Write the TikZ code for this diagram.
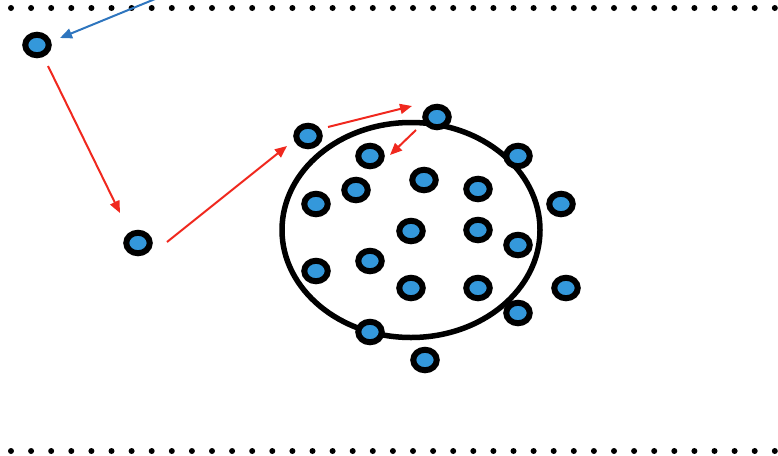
\documentclass[tikz,border=0pt]{standalone}
\usetikzlibrary{arrows.meta,shapes.geometric}
\definecolor{dotblue}{RGB}{52,152,219}
\definecolor{arrblue}{RGB}{46,117,190}
\definecolor{arrred}{RGB}{240,40,30}
\begin{document}
\begin{tikzpicture}[x=1pt,y=-1pt,
  pt/.style={draw=black,line width=6pt,fill=dotblue,ellipse,minimum width=23.5pt,minimum height=20.5pt,inner sep=0pt},
  redarr/.style={draw=arrred,line width=2pt,-{Triangle[length=12pt,width=10pt]}},
  bluearr/.style={draw=arrblue,line width=2pt,-{Triangle[length=12pt,width=10pt]}},
  rowdot/.style={fill=black,circle,inner sep=0pt,minimum size=6pt}]
\useasboundingbox (0,0) rectangle (778,455);
\clip (0,0) rectangle (778,455);
\foreach \i in {0,...,38} {
  \node[rowdot] (t\i) at ({11+20.1*\i},8) {};
  \node[rowdot] (b\i) at ({11+20.1*\i},451) {};
}
\draw[line width=5.5pt] (411,230) ellipse [x radius=129, y radius=107.5];
\node[pt] (n1) at (37,45) {};
\node[pt] (n2) at (138,243) {};
\node[pt] (n3) at (308,136) {};
\node[pt] (n4) at (437,117) {};
\node[pt] (n5) at (370,156) {};
\node[pt] (n6) at (518,156) {};
\node[pt] (n7) at (316,204) {};
\node[pt] (n8) at (356,190) {};
\node[pt] (n9) at (424,180) {};
\node[pt] (n10) at (478,189) {};
\node[pt] (n11) at (561,204) {};
\node[pt] (n12) at (411,231) {};
\node[pt] (n13) at (478,230) {};
\node[pt] (n14) at (518,245) {};
\node[pt] (n15) at (316,271) {};
\node[pt] (n16) at (370,261) {};
\node[pt] (n17) at (411,288) {};
\node[pt] (n18) at (478,288) {};
\node[pt] (n19) at (566,288) {};
\node[pt] (n20) at (518,313) {};
\node[pt] (n21) at (370,332) {};
\node[pt] (n22) at (425,360) {};
\coordinate (src) at (160,-3);
\draw[bluearr] (src) -- ([shift={(23,-7)}]n1.center);
\draw[redarr] ([shift={(11,21)}]n1.center) -- ([shift={(-18,-30)}]n2.center);
\draw[redarr] ([shift={(29,-1)}]n2.center) -- ([shift={(-21,10)}]n3.center);
\draw[redarr] ([shift={(20,-9)}]n3.center) -- ([shift={(-25,-11)}]n4.center);
\draw[redarr] ([shift={(-21,13)}]n4.center) -- ([shift={(20,-1)}]n5.center);
\end{tikzpicture}
\end{document}
